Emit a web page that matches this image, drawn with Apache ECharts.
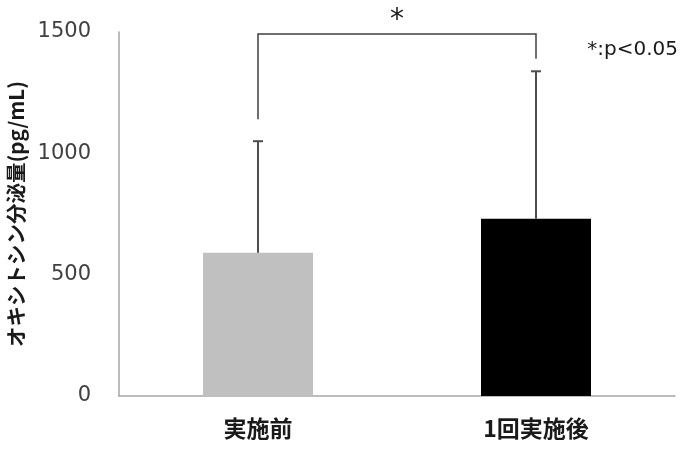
<!DOCTYPE html>
<html><head><meta charset="utf-8">
<script src="https://cdn.jsdelivr.net/npm/echarts@6/dist/echarts.min.js"></script>
<style>html,body{margin:0;padding:0;background:#fff}#c{width:700px;height:451px}</style>
</head><body><div id="c"></div>
<script>
const categories = ['実施前', '1回実施後'];
const means = [590, 730];
const sdUpper = [1050, 1338];
const barColors = ['#c0c0c0', '#000000'];
const yTicks = [0, 500, 1000, 1500];
// significance bracket: [category index, leg bottom value]
const bracketLegs = [[0, 1140], [1, 1390]];
const bracketTop = 1492;
const sigMark = '*';
const noteText = '*:p<0.05';

const chart = echarts.init(document.getElementById('c'));
chart.setOption({
  animation: false,
  grid: {left: 119, right: 25, top: 32, bottom: 55, containLabel: false, outerBoundsMode: 'none'},
  xAxis: {
    type: 'category', data: categories,
    axisLine: {lineStyle: {color: '#a6a6a6', width: 1.5}},
    axisTick: {show: false},
    axisLabel: {color: '#1a1a1a', fontSize: 23, fontWeight: 'bold', margin: 21,
      fontFamily: '"Noto Sans CJK JP", sans-serif'}
  },
  yAxis: {
    type: 'value', min: yTicks[0], max: yTicks[yTicks.length - 1], interval: 500,
    name: 'オキシトシン分泌量(pg/mL)', nameLocation: 'middle', nameGap: 81,
    nameTextStyle: {fontSize: 20.5, fontWeight: 'bold', color: '#1a1a1a',
      fontFamily: '"Noto Sans CJK JP", sans-serif'},
    axisLine: {show: true, lineStyle: {color: '#a6a6a6', width: 1.5}},
    axisTick: {show: false},
    splitLine: {show: false},
    axisLabel: {color: '#404040', fontSize: 21, margin: 28, formatter: v => String(v),
      fontFamily: '"DejaVu Sans", Verdana, sans-serif'}
  },
  series: [
    {
      type: 'bar', barWidth: 110,
      data: means.map((v, i) => ({value: v, itemStyle: {color: barColors[i]}})),
      z: 2
    },
    {
      type: 'custom', z: 3,
      data: means.map((m, i) => [i, m, sdUpper[i]]),
      renderItem: function (params, api) {
        const base = api.coord([api.value(0), api.value(1)]);
        const top = api.coord([api.value(0), api.value(2)]);
        const hw = 5;
        const style = {stroke: '#4d4d4d', lineWidth: 2};
        return {type: 'group', children: [
          {type: 'line', shape: {x1: base[0], y1: base[1], x2: top[0], y2: top[1]}, style: style},
          {type: 'line', shape: {x1: top[0] - hw, y1: top[1], x2: top[0] + hw, y2: top[1]}, style: style}
        ]};
      }
    },
    {
      type: 'custom', z: 3,
      data: [[bracketLegs[0][0], bracketLegs[0][1], bracketLegs[1][0], bracketLegs[1][1], bracketTop]],
      renderItem: function (params, api) {
        const a = api.coord([api.value(0), api.value(1)]);
        const b = api.coord([api.value(2), api.value(3)]);
        const ta = api.coord([api.value(0), api.value(4)]);
        const tb = api.coord([api.value(2), api.value(4)]);
        return {type: 'group', children: [
          {type: 'polyline', shape: {points: [a, ta, tb, b]},
            style: {stroke: '#404040', lineWidth: 1.5, fill: null}},
          {type: 'text', x: (ta[0] + tb[0]) / 2, y: ta[1] - 13,
            style: {text: sigMark, fontSize: 28, fill: '#1a1a1a', align: 'center', verticalAlign: 'middle',
              fontFamily: '"DejaVu Sans", sans-serif'}}
        ]};
      }
    }
  ],
  graphic: [{
    type: 'text', right: 22, top: 40,
    style: {text: noteText, fontSize: 20, fill: '#1a1a1a', fontFamily: '"DejaVu Sans", Verdana, sans-serif'}
  }]
});
</script></body></html>
